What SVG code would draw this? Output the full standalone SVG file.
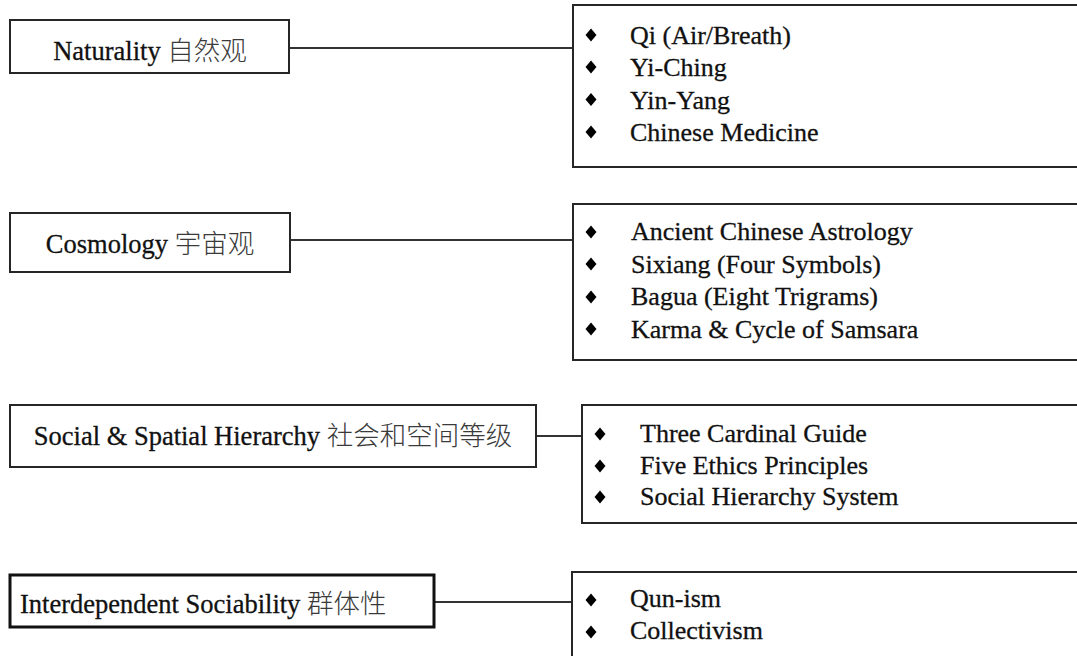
<svg xmlns="http://www.w3.org/2000/svg" width="1077" height="656" viewBox="0 0 1077 656">
  <style>
    .box { fill: #ffffff; stroke: #262626; stroke-width: 2; }
    .box-strong { fill: #ffffff; stroke: #111111; stroke-width: 3; }
    .link { stroke: #333333; stroke-width: 2; fill: none; }
    .label { font-family: "Liberation Serif", "Noto Sans CJK SC", serif; font-size: 26.5px; fill: #111111; stroke: #111111; stroke-width: 0.3; }
    .cjk { font-family: "Noto Sans CJK SC", sans-serif; font-weight: 300; fill: #3a3a3a; stroke: none; }
    .item { font-family: "Liberation Serif", serif; font-size: 26px; fill: #111111; stroke: #111111; stroke-width: 0.3; }
  </style>
  <defs>
    <path id="bullet" d="M0,-6.5 L5.5,0 L0,6.5 L-5.5,0 Z" fill="#000000"/>
  </defs>

  <rect width="1077" height="656" fill="#ffffff"/>

  <!-- connectors between each concept and its list -->
  <g id="connectors">
    <line class="link" x1="289" y1="48" x2="573" y2="48"/>
    <line class="link" x1="290" y1="240" x2="573" y2="240"/>
    <line class="link" x1="536" y1="436" x2="582" y2="436"/>
    <line class="link" x1="434" y1="602" x2="572" y2="602"/>
  </g>

  <!-- concept: naturality -->
  <g id="naturality">
    <rect class="box" x="10" y="20" width="279" height="53"/>
    <text class="label" x="150" y="60" text-anchor="middle">Naturality <tspan class="cjk">自然观</tspan></text>
  </g>
  <g id="naturality-list">
    <rect class="box" x="573" y="5" width="520" height="162"/>
    <use href="#bullet" x="591" y="35"/>
    <use href="#bullet" x="591" y="67"/>
    <use href="#bullet" x="591" y="99.5"/>
    <use href="#bullet" x="591" y="132"/>
    <text class="item" x="630" y="44">Qi (Air/Breath)</text>
    <text class="item" x="630" y="76">Yi-Ching</text>
    <text class="item" x="630" y="108.5">Yin-Yang</text>
    <text class="item" x="630" y="141">Chinese Medicine</text>
  </g>

  <!-- concept: cosmology -->
  <g id="cosmology">
    <rect class="box" x="10" y="213" width="280" height="59"/>
    <text class="label" x="150" y="253" text-anchor="middle">Cosmology <tspan class="cjk">宇宙观</tspan></text>
  </g>
  <g id="cosmology-list">
    <rect class="box" x="573" y="204" width="520" height="156"/>
    <use href="#bullet" x="591" y="232"/>
    <use href="#bullet" x="591" y="264"/>
    <use href="#bullet" x="591" y="297"/>
    <use href="#bullet" x="591" y="329"/>
    <text class="item" x="631" y="240">Ancient Chinese Astrology</text>
    <text class="item" x="631" y="272.5">Sixiang (Four Symbols)</text>
    <text class="item" x="631" y="305">Bagua (Eight Trigrams)</text>
    <text class="item" x="631" y="337.5">Karma &amp; Cycle of Samsara</text>
  </g>

  <!-- concept: social and spatial hierarchy -->
  <g id="hierarchy">
    <rect class="box" x="10" y="405" width="526" height="62"/>
    <text class="label" x="273" y="445" text-anchor="middle">Social &amp; Spatial Hierarchy <tspan class="cjk">社会和空间等级</tspan></text>
  </g>
  <g id="hierarchy-list">
    <rect class="box" x="582" y="405" width="510" height="118"/>
    <use href="#bullet" x="600" y="434"/>
    <use href="#bullet" x="600" y="466"/>
    <use href="#bullet" x="600" y="497"/>
    <text class="item" x="640" y="442">Three Cardinal Guide</text>
    <text class="item" x="640" y="474">Five Ethics Principles</text>
    <text class="item" x="640" y="505">Social Hierarchy System</text>
  </g>

  <!-- concept: interdependent sociability -->
  <g id="sociability">
    <rect class="box-strong" x="10" y="575" width="424" height="52"/>
    <text class="label" x="20" y="613">Interdependent Sociability <tspan class="cjk">群体性</tspan></text>
  </g>
  <g id="sociability-list">
    <rect class="box" x="572" y="572" width="520" height="110"/>
    <use href="#bullet" x="591" y="600"/>
    <use href="#bullet" x="591" y="632"/>
    <text class="item" x="630" y="607">Qun-ism</text>
    <text class="item" x="630" y="639">Collectivism</text>
  </g>
</svg>
